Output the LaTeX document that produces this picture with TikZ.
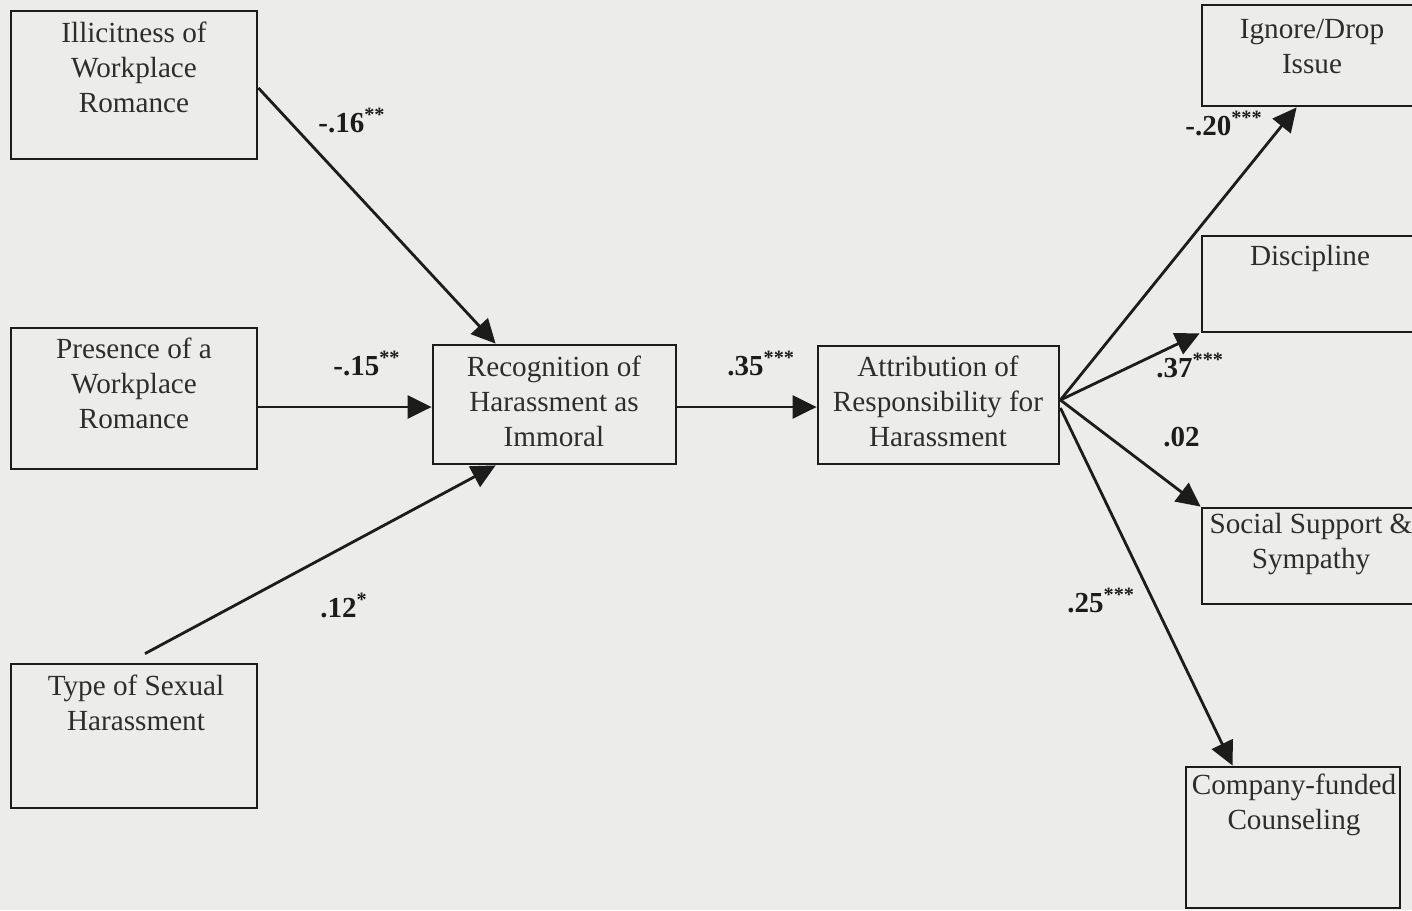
\documentclass[tikz,border=0pt]{standalone}
\usepackage{fontspec}
\setmainfont{Liberation Serif}
\usetikzlibrary{calc,arrows.meta}
\definecolor{paper}{RGB}{236,236,234}
\definecolor{ink}{RGB}{28,28,28}
\definecolor{txt}{RGB}{45,45,45}
\begin{document}
\begin{tikzpicture}[x=0.5pt,y=-0.5pt,
  box/.style={draw=ink,line width=1.4pt,inner sep=0pt,fill=paper},
  boxtext/.style={align=center,inner sep=0pt,text=txt,font=\fontsize{14.6}{17.5}\selectfont},
  coef/.style={anchor=base west,inner sep=0pt,text=ink,font=\fontsize{14.5}{17.5}\selectfont\bfseries},
  path/.style={draw=ink,line width=1.4pt,-{Triangle[length=12pt,width=11.5pt]}}]
\useasboundingbox (0,0) rectangle (1412,910);
\clip (0,0) rectangle (1412,910);
\fill[paper] (0,0) rectangle (1412,910);

% boxes
\node[box,minimum width=123pt,minimum height=74pt] (ill) at (134,85) {};
\node[box,minimum width=123pt,minimum height=70.5pt] (pres) at (134,398.5) {};
\node[box,minimum width=123pt,minimum height=72pt] (type) at (134,736) {};
\node[box,minimum width=121.5pt,minimum height=59.5pt] (rec) at (554.5,404.5) {};
\node[box,minimum width=120.5pt,minimum height=59pt] (att) at (938.5,405) {};
\node[box,minimum width=124pt,minimum height=50.5pt] (ign) at (1326,55.5) {};
\node[box,minimum width=124pt,minimum height=48pt] (dis) at (1326,284) {};
\node[box,minimum width=124pt,minimum height=48pt] (soc) at (1326,556) {};
\node[box,minimum width=107pt,minimum height=70.5pt] (com) at (1293,837.5) {};

% box texts
\node[boxtext] (illt) at (134,67) {Illicitness of\\Workplace\\Romance};
\node[boxtext] (prest) at (134,383) {Presence of a\\Workplace\\Romance};
\node[boxtext] (typet) at (136,703) {Type of Sexual\\Harassment};
\node[boxtext] (rect) at (554,401) {Recognition of\\Harassment as\\Immoral};
\node[boxtext] (attt) at (938,401) {Attribution of\\Responsibility for\\Harassment};
\node[boxtext] (ignt) at (1312,47) {Ignore/Drop\\Issue};
\node[boxtext] (dist) at (1310,258) {Discipline};
\node[boxtext] (soct) at (1311,544) {Social Support \&\\Sympathy};
\node[boxtext] (comt) at (1294,805) {Company-funded\\Counseling};

% paths
\draw[path] ($(ill.east)+(0,3)$) -- ($(rec.north west)+(64,0)$);
\draw[path] ($(pres.east)+(0,8.5)$) -- ($(rec.west)+(0,2.5)$);
\draw[path] ($(type.north)+(11,-9)$) -- ($(rec.south west)+(64,0)$);
\draw[path] ($(rec.east)+(0,2.5)$) -- ($(att.west)+(0,2)$);
\draw[path] ($(att.east)+(0,-5)$) -- ($(ign.south west)+(96,0)$);
\draw[path] ($(att.east)+(0,-5)$) -- ($(dis.south west)+(-1,0)$);
\draw[path] ($(att.east)+(0,-5)$) -- (soc.north west);
\draw[path] ($(att.east)+(0,3)$) -- ($(com.north west)+(48,0)$);

% coefficients
\node[coef] (c1) at (318,132) {-.16\textsuperscript{**}};
\node[coef] (c2) at (333,375) {-.15\textsuperscript{**}};
\node[coef] (c3) at (320,617) {.12\textsuperscript{*}};
\node[coef] (c4) at (727,375) {.35\textsuperscript{***}};
\node[coef] (c5) at (1185,135) {-.20\textsuperscript{***}};
\node[coef] (c6) at (1156,377) {.37\textsuperscript{***}};
\node[coef] (c7) at (1163,446) {.02};
\node[coef] (c8) at (1067,612) {.25\textsuperscript{***}};
\end{tikzpicture}
\end{document}
